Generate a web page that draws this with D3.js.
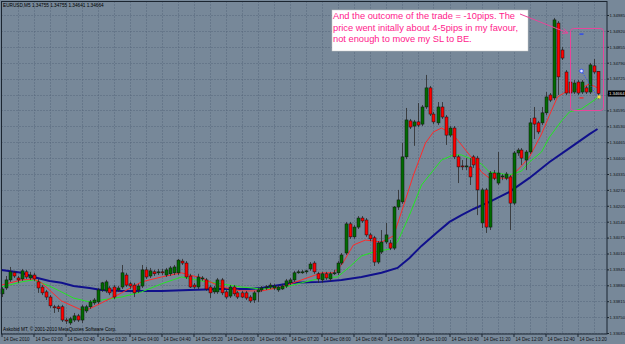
<!DOCTYPE html>
<html>
<head>
<meta charset="utf-8">
<script src="https://cdn.jsdelivr.net/npm/d3@7"></script>
<style>
  body { margin: 0; background: #778899; }
  svg { display: block; }
</style>
</head>
<body>
<div id="chart"></div>
<script>
// EURUSD M5, 14 Dec 2010
const symbol = 'EURUSD,M5'

const timeLabels = ['14 Dec 2010', '14 Dec 02:00', '14 Dec 02:40', '14 Dec 03:20', '14 Dec 04:00',
  '14 Dec 04:40', '14 Dec 05:20', '14 Dec 06:00', '14 Dec 06:40', '14 Dec 07:20', '14 Dec 08:00',
  '14 Dec 08:40', '14 Dec 09:20', '14 Dec 10:00', '14 Dec 10:40', '14 Dec 11:20', '14 Dec 12:00',
  '14 Dec 12:40', '14 Dec 13:20']

const priceTicks = [1.34985, 1.34920, 1.34855, 1.34790, 1.34725, 1.34660, 1.34595, 1.34530,
  1.34465, 1.34400, 1.34335, 1.34270, 1.34205, 1.34140, 1.34075, 1.34010, 1.33945, 1.33880,
  1.33815, 1.33750, 1.33685]

const open = [
  1.33845, 1.33869, 1.33902, 1.33931, 1.33910, 1.33906, 1.33935, 1.33910, 1.33922, 1.33894,
  1.33873, 1.33853, 1.33832, 1.33792, 1.33792, 1.33792, 1.33738, 1.33726, 1.33738, 1.33755,
  1.33738, 1.33775, 1.33792, 1.33808, 1.33812, 1.33861, 1.33857, 1.33869, 1.33873, 1.33861,
  1.33873, 1.33922, 1.33886, 1.33881, 1.33861, 1.33877, 1.33943, 1.33918, 1.33935, 1.33931,
  1.33935, 1.33922, 1.33927, 1.33931, 1.33931, 1.33979, 1.33971, 1.33918, 1.33881, 1.33873,
  1.33906, 1.33902, 1.33873, 1.33853, 1.33853, 1.33902, 1.33853, 1.33836, 1.33873, 1.33849,
  1.33849, 1.33849, 1.33832, 1.33820, 1.33853, 1.33861, 1.33869, 1.33873, 1.33869, 1.33861,
  1.33865, 1.33877, 1.33890, 1.33902, 1.33931, 1.33931, 1.33935, 1.33947, 1.33971, 1.33927,
  1.33902, 1.33927, 1.33906, 1.33927, 1.33931, 1.33971, 1.34012, 1.34131, 1.34078, 1.34118,
  1.34155, 1.34147, 1.34086, 1.34074, 1.33975, 1.34016, 1.34057, 1.34053, 1.34032, 1.34200,
  1.34221, 1.34405, 1.34552, 1.34531, 1.34548, 1.34539, 1.34609, 1.34687, 1.34580, 1.34544,
  1.34609, 1.34568, 1.34494, 1.34523, 1.34405, 1.34368, 1.34364, 1.34364, 1.34405, 1.34400,
  1.34135, 1.34270, 1.34118, 1.34339, 1.34298, 1.34323, 1.34318, 1.34323, 1.34216, 1.34421,
  1.34433, 1.34392, 1.34425, 1.34564, 1.34544, 1.34544, 1.34585, 1.34658, 1.34646, 1.34952,
  1.34842, 1.34752, 1.34711, 1.34670, 1.34711, 1.34670, 1.34687, 1.34670, 1.34777, 1.34755]

const high = [
  1.33873, 1.33918, 1.33955, 1.33939, 1.33918, 1.33947, 1.33943, 1.33935, 1.33931, 1.33906,
  1.33881, 1.33861, 1.33840, 1.33800, 1.33800, 1.33800, 1.33747, 1.33751, 1.33767, 1.33763,
  1.33800, 1.33800, 1.33820, 1.33828, 1.33869, 1.33894, 1.33902, 1.33877, 1.33881, 1.33877,
  1.33963, 1.33931, 1.33894, 1.33890, 1.33886, 1.33963, 1.33955, 1.33951, 1.33943, 1.33947,
  1.33947, 1.33951, 1.33959, 1.33963, 1.33988, 1.33988, 1.33979, 1.33927, 1.33890, 1.33927,
  1.33918, 1.33910, 1.33881, 1.33877, 1.33910, 1.33910, 1.33861, 1.33881, 1.33881, 1.33857,
  1.33857, 1.33857, 1.33840, 1.33857, 1.33869, 1.33877, 1.33881, 1.33890, 1.33886, 1.33881,
  1.33886, 1.33906, 1.33910, 1.33939, 1.33943, 1.33943, 1.33943, 1.33975, 1.33979, 1.33935,
  1.33935, 1.33935, 1.33935, 1.33943, 1.33979, 1.34012, 1.34139, 1.34139, 1.34126, 1.34163,
  1.34163, 1.34155, 1.34094, 1.34082, 1.34061, 1.34106, 1.34135, 1.34065, 1.34204, 1.34270,
  1.34462, 1.34605, 1.34560, 1.34556, 1.34625, 1.34617, 1.34740, 1.34695, 1.34589, 1.34629,
  1.34629, 1.34576, 1.34531, 1.34531, 1.34413, 1.34392, 1.34400, 1.34400, 1.34413, 1.34409,
  1.34278, 1.34278, 1.34347, 1.34351, 1.34425, 1.34335, 1.34343, 1.34331, 1.34429, 1.34441,
  1.34441, 1.34433, 1.34564, 1.34609, 1.34552, 1.34609, 1.34670, 1.34666, 1.34973, 1.34960,
  1.34854, 1.34760, 1.34719, 1.34719, 1.34719, 1.34719, 1.34695, 1.34789, 1.34805, 1.34755]

const low = [
  1.33832, 1.33861, 1.33894, 1.33910, 1.33890, 1.33898, 1.33906, 1.33902, 1.33898, 1.33849,
  1.33840, 1.33820, 1.33788, 1.33767, 1.33771, 1.33730, 1.33722, 1.33718, 1.33730, 1.33730,
  1.33726, 1.33767, 1.33784, 1.33800, 1.33804, 1.33853, 1.33849, 1.33840, 1.33824, 1.33853,
  1.33865, 1.33873, 1.33865, 1.33832, 1.33849, 1.33869, 1.33906, 1.33910, 1.33918, 1.33922,
  1.33922, 1.33914, 1.33918, 1.33922, 1.33922, 1.33963, 1.33906, 1.33869, 1.33865, 1.33865,
  1.33898, 1.33857, 1.33828, 1.33845, 1.33845, 1.33840, 1.33824, 1.33828, 1.33836, 1.33824,
  1.33828, 1.33820, 1.33808, 1.33808, 1.33812, 1.33853, 1.33861, 1.33865, 1.33861, 1.33853,
  1.33861, 1.33869, 1.33881, 1.33894, 1.33927, 1.33927, 1.33927, 1.33939, 1.33927, 1.33890,
  1.33890, 1.33902, 1.33898, 1.33922, 1.33922, 1.33963, 1.34004, 1.34070, 1.34070, 1.34110,
  1.34135, 1.34078, 1.34061, 1.33959, 1.33967, 1.34008, 1.34049, 1.34024, 1.34024, 1.34188,
  1.34213, 1.34396, 1.34519, 1.34450, 1.34527, 1.34531, 1.34601, 1.34572, 1.34539, 1.34535,
  1.34560, 1.34454, 1.34486, 1.34396, 1.34298, 1.34351, 1.34351, 1.34290, 1.34360, 1.34167,
  1.34114, 1.34094, 1.34106, 1.34310, 1.34290, 1.34310, 1.34310, 1.34106, 1.34208, 1.34409,
  1.34372, 1.34351, 1.34417, 1.34478, 1.34498, 1.34535, 1.34576, 1.34629, 1.34637, 1.34658,
  1.34801, 1.34658, 1.34658, 1.34662, 1.34658, 1.34662, 1.34662, 1.34662, 1.34744, 1.34641]

const close = [
  1.33865, 1.33902, 1.33935, 1.33918, 1.33902, 1.33939, 1.33914, 1.33922, 1.33906, 1.33869,
  1.33849, 1.33832, 1.33796, 1.33788, 1.33784, 1.33738, 1.33734, 1.33743, 1.33755, 1.33738,
  1.33792, 1.33792, 1.33812, 1.33820, 1.33861, 1.33890, 1.33894, 1.33849, 1.33832, 1.33869,
  1.33931, 1.33881, 1.33877, 1.33849, 1.33877, 1.33943, 1.33914, 1.33939, 1.33927, 1.33935,
  1.33931, 1.33943, 1.33951, 1.33955, 1.33983, 1.33971, 1.33914, 1.33873, 1.33873, 1.33914,
  1.33910, 1.33865, 1.33849, 1.33869, 1.33902, 1.33849, 1.33832, 1.33873, 1.33845, 1.33832,
  1.33832, 1.33828, 1.33816, 1.33849, 1.33861, 1.33869, 1.33873, 1.33881, 1.33877, 1.33873,
  1.33877, 1.33898, 1.33902, 1.33931, 1.33935, 1.33935, 1.33939, 1.33967, 1.33935, 1.33906,
  1.33927, 1.33910, 1.33927, 1.33931, 1.33971, 1.34004, 1.34131, 1.34078, 1.34118, 1.34155,
  1.34143, 1.34086, 1.34070, 1.33975, 1.34053, 1.34057, 1.34086, 1.34032, 1.34200, 1.34229,
  1.34405, 1.34556, 1.34527, 1.34548, 1.34535, 1.34609, 1.34687, 1.34580, 1.34548, 1.34609,
  1.34568, 1.34494, 1.34523, 1.34405, 1.34364, 1.34364, 1.34368, 1.34323, 1.34372, 1.34270,
  1.34270, 1.34118, 1.34339, 1.34318, 1.34339, 1.34327, 1.34335, 1.34216, 1.34421, 1.34433,
  1.34400, 1.34425, 1.34544, 1.34539, 1.34507, 1.34585, 1.34650, 1.34637, 1.34965, 1.34732,
  1.34809, 1.34666, 1.34666, 1.34707, 1.34666, 1.34711, 1.34670, 1.34781, 1.34752, 1.34664]

// moving averages, read at a few bars each
const maFastBars = [0, 5, 8, 10, 15, 20, 22, 25, 30, 35, 40, 45, 47, 50, 55, 60, 65, 70, 75, 80, 83,
  85, 88, 91, 95, 98, 100, 103, 106, 108, 110, 113, 115, 118, 120, 122, 125, 127, 130, 132, 135,
  137, 139, 141, 145, 147, 149]
const maFast = [1.33881, 1.33902, 1.33906, 1.33890, 1.33816, 1.33779, 1.33784, 1.33808, 1.33849,
  1.33894, 1.33914, 1.33931, 1.33922, 1.33910, 1.33873, 1.33857, 1.33857, 1.33873, 1.33902,
  1.33931, 1.33931, 1.33963, 1.34045, 1.34065, 1.34057, 1.34082, 1.34180, 1.34331, 1.34462,
  1.34507, 1.34523, 1.34494, 1.34454, 1.34392, 1.34343, 1.34318, 1.34318, 1.34318, 1.34368,
  1.34405, 1.34498, 1.34576, 1.34650, 1.34670, 1.34687, 1.34703, 1.34687]

const maMidBars = [0, 5, 8, 12, 15, 18, 22, 25, 30, 35, 40, 45, 50, 55, 60, 65, 70, 75, 80, 84, 87,
  90, 93, 97, 99, 102, 105, 108, 110, 113, 115, 118, 120, 122, 127, 130, 132, 135, 137, 140, 142,
  145, 149]
const maMid = [1.33873, 1.33894, 1.33902, 1.33877, 1.33853, 1.33828, 1.33812, 1.33820, 1.33832,
  1.33853, 1.33886, 1.33914, 1.33898, 1.33886, 1.33873, 1.33865, 1.33869, 1.33890, 1.33910,
  1.33914, 1.33955, 1.34000, 1.34016, 1.34028, 1.34057, 1.34167, 1.34290, 1.34351, 1.34392,
  1.34413, 1.34413, 1.34392, 1.34376, 1.34343, 1.34331, 1.34347, 1.34384, 1.34425, 1.34486,
  1.34552, 1.34589, 1.34601, 1.34646]

const maSlowBars = [0, 5, 8, 12, 15, 18, 22, 25, 30, 40, 47, 55, 62, 65, 68, 73, 80, 85, 90, 95, 99,
  102, 105, 109, 112, 115, 118, 122, 127, 132, 137, 142, 147, 149]
const maSlow = [1.33943, 1.33931, 1.33914, 1.33898, 1.33890, 1.33877, 1.33869, 1.33861, 1.33857,
  1.33857, 1.33861, 1.33865, 1.33865, 1.33869, 1.33877, 1.33890, 1.33894, 1.33902, 1.33914,
  1.33931, 1.33951, 1.33992, 1.34041, 1.34098, 1.34139, 1.34167, 1.34192, 1.34221, 1.34262,
  1.34319, 1.34384, 1.34441, 1.34498, 1.34519]

// the trade that the note is about
const tradeEntry = { bar: 145, price: 1.34756 }
const tradeExit = { bar: 149, price: 1.34650 }
const takeProfit = 1.34907
const stopLoss = 1.34646

const note = ['And the outcome of the trade = -10pips. The',
  'price went initally about 4-5pips in my favour,',
  'not enough to move my SL to BE.']

const fullWidth = 625, fullHeight = 344
const frame = { left: 1.5, top: 1.5, right: 607, bottom: 334 }
const axisFont = 4.3

const svg = d3.select('#chart')
  .append('svg')
    .attr('width', fullWidth)
    .attr('height', fullHeight)
    .style('font-family', 'Liberation Sans, Arial, sans-serif')

svg.append('rect')
  .attr('width', fullWidth)
  .attr('height', fullHeight)
  .attr('fill', '#778899')

const bars = d3.range(open.length).map(i => ({
  i, o: open[i], h: high[i], l: low[i], c: close[i]
}))

const x = d3.scaleLinear()
  .domain([0, bars.length - 1])
  .range([1.5, 597.5])

const y = d3.scaleLinear()
  .domain([1.33685, 1.34985])
  .range([333, 15])

// grid
const grid = svg.append('g')
  .attr('stroke', '#56667a')
  .attr('stroke-dasharray', '1,2')
  .attr('stroke-width', 1)

grid.selectAll('.vg')
  .data(d3.range(4, bars.length, 4))
  .enter()
  .append('line')
  .attr('x1', d => Math.round(x(d)) + 0.5)
  .attr('x2', d => Math.round(x(d)) + 0.5)
  .attr('y1', frame.top)
  .attr('y2', frame.bottom)

grid.selectAll('.hg')
  .data(priceTicks)
  .enter()
  .append('line')
  .attr('x1', frame.left)
  .attr('x2', frame.right)
  .attr('y1', d => Math.round(y(d)) + 0.5)
  .attr('y2', d => Math.round(y(d)) + 0.5)

// moving averages
const line = (idx, vals) => d3.line()
  .x((d, k) => x(idx[k]))
  .y(d => y(d))(vals)

svg.append('path')
  .attr('d', line(maSlowBars, maSlow))
  .style('stroke', '#10108c')
  .style('stroke-width', 2)
  .style('fill', 'none')

svg.append('path')
  .attr('d', line(maMidBars, maMid))
  .style('stroke', '#22e622')
  .style('stroke-width', 1)
  .style('fill', 'none')

svg.append('path')
  .attr('d', line(maFastBars, maFast))
  .style('stroke', '#ff2a2a')
  .style('stroke-width', 1)
  .style('fill', 'none')

// candles
const candle = svg.append('g')
  .selectAll('g')
  .data(bars)
  .enter()
  .append('g')

candle.append('line')
  .attr('x1', d => Math.round(x(d.i)) + 0.5)
  .attr('x2', d => Math.round(x(d.i)) + 0.5)
  .attr('y1', d => y(d.h))
  .attr('y2', d => y(d.l))
  .attr('stroke', '#2a2a2a')
  .attr('stroke-opacity', 0.8)

candle.append('rect')
  .attr('x', d => Math.round(x(d.i)) - 1)
  .attr('y', d => y(Math.max(d.o, d.c)))
  .attr('width', 3)
  .attr('height', d => Math.max(1, Math.abs(y(d.o) - y(d.c))))
  .attr('fill', d => d.c >= d.o ? '#006b00' : '#ff0000')
  .attr('stroke', '#111')
  .attr('stroke-width', 0.5)

// frame + axes
svg.append('rect')
  .attr('x', frame.left)
  .attr('y', frame.top)
  .attr('width', frame.right - frame.left)
  .attr('height', frame.bottom - frame.top)
  .attr('fill', 'none')
  .attr('stroke', '#1b2530')

const f5 = d3.format('.5f')

const yAxis = svg.append('g')
  .attr('transform', `translate(${frame.right}, 0)`)
  .call(d3.axisRight(y).tickValues(priceTicks).tickFormat(f5).tickSize(2).tickPadding(0.5))
yAxis.select('.domain').remove()
yAxis.selectAll('line').attr('stroke', '#1b2530')
yAxis.selectAll('text')
  .attr('font-size', axisFont)
  .attr('fill', '#101418')
  .attr('font-family', 'Liberation Sans, Arial')

const labelBars = timeLabels.map((t, k) => k * 8)
const xAxis = svg.append('g')
  .attr('transform', `translate(0, ${frame.bottom})`)
  .call(d3.axisBottom(x).tickValues(labelBars).tickFormat((d, k) => timeLabels[k]).tickSize(3).tickPadding(1))
xAxis.select('.domain').remove()
xAxis.selectAll('line').attr('stroke', '#1b2530')
xAxis.selectAll('text')
  .attr('text-anchor', 'start')
  .attr('dx', 1.5)
  .attr('font-size', 4.6)
  .attr('fill', '#101418')
  .attr('font-family', 'Liberation Sans, Arial')

// current price tag
const last = bars[bars.length - 1]
svg.append('rect')
  .attr('x', frame.right + 1)
  .attr('y', y(last.c) - 3)
  .attr('width', 17)
  .attr('height', 6)
  .attr('fill', '#000')
svg.append('text')
  .attr('x', frame.right + 2)
  .attr('y', y(last.c) + 1.6)
  .attr('font-size', axisFont)
  .attr('fill', '#e8e8e8')
  .text(f5(last.c))

// header + footer
svg.append('text')
  .attr('x', 3)
  .attr('y', 7)
  .attr('font-size', 4.7)
  .attr('fill', '#000')
  .text(`${symbol}  ${f5(last.o)} ${f5(last.h)} ${f5(last.l)} ${f5(last.c)}`)

svg.append('text')
  .attr('x', 3)
  .attr('y', 331)
  .attr('font-size', 4.7)
  .attr('fill', '#000')
  .text('Askobid MT, © 2001-2010 MetaQuotes Software Corp.')

// trade drawing
const pink = '#e8459a'
svg.append('rect')
  .attr('x', 570.5).attr('y', 28.5)
  .attr('width', 33).attr('height', 82)
  .attr('rx', 3)
  .attr('fill', 'none')
  .attr('stroke', pink)
  .attr('stroke-width', 1)

svg.append('line')
  .attr('x1', x(tradeEntry.bar) - 2).attr('x2', x(tradeEntry.bar) + 2)
  .attr('y1', y(takeProfit)).attr('y2', y(takeProfit))
  .attr('stroke', '#1e3cff').attr('stroke-width', 1.2)
svg.append('line')
  .attr('x1', x(tradeEntry.bar) - 2).attr('x2', x(tradeEntry.bar) + 2)
  .attr('y1', y(stopLoss)).attr('y2', y(stopLoss))
  .attr('stroke', '#ff2020').attr('stroke-width', 1.2)

svg.append('line')
  .attr('x1', x(tradeEntry.bar)).attr('y1', y(tradeEntry.price))
  .attr('x2', x(tradeExit.bar)).attr('y2', y(tradeExit.price))
  .attr('stroke', '#2846ff').attr('stroke-dasharray', '1,1.5')
svg.append('circle')
  .attr('cx', x(tradeEntry.bar)).attr('cy', y(tradeEntry.price))
  .attr('r', 1.8).attr('fill', '#dfe6ff').attr('stroke', '#2846ff').attr('stroke-width', 0.8)
svg.append('rect')
  .attr('x', x(tradeExit.bar)).attr('y', y(tradeExit.price) - 1.5)
  .attr('width', 3).attr('height', 3)
  .attr('fill', '#ffe23a')

// note
svg.append('rect')
  .attr('x', 332).attr('y', 10)
  .attr('width', 196).attr('height', 41)
  .attr('fill', '#fff')
  .attr('stroke', '#c8c8c8')
  .attr('stroke-width', 0.5)

svg.append('g')
  .selectAll('text')
  .data(note)
  .enter()
  .append('text')
  .attr('x', 333)
  .attr('y', (d, k) => 19 + k * 11.5)
  .attr('font-size', 9.3)
  .attr('fill', '#ff1a8c')
  .text(d => d)

svg.append('path')
  .attr('d', 'M520,14 L568,33 M563.9,28.6 L568,33 L562,33.3')
  .attr('fill', 'none')
  .attr('stroke', pink)
  .attr('stroke-width', 1)
</script>
</body>
</html>
